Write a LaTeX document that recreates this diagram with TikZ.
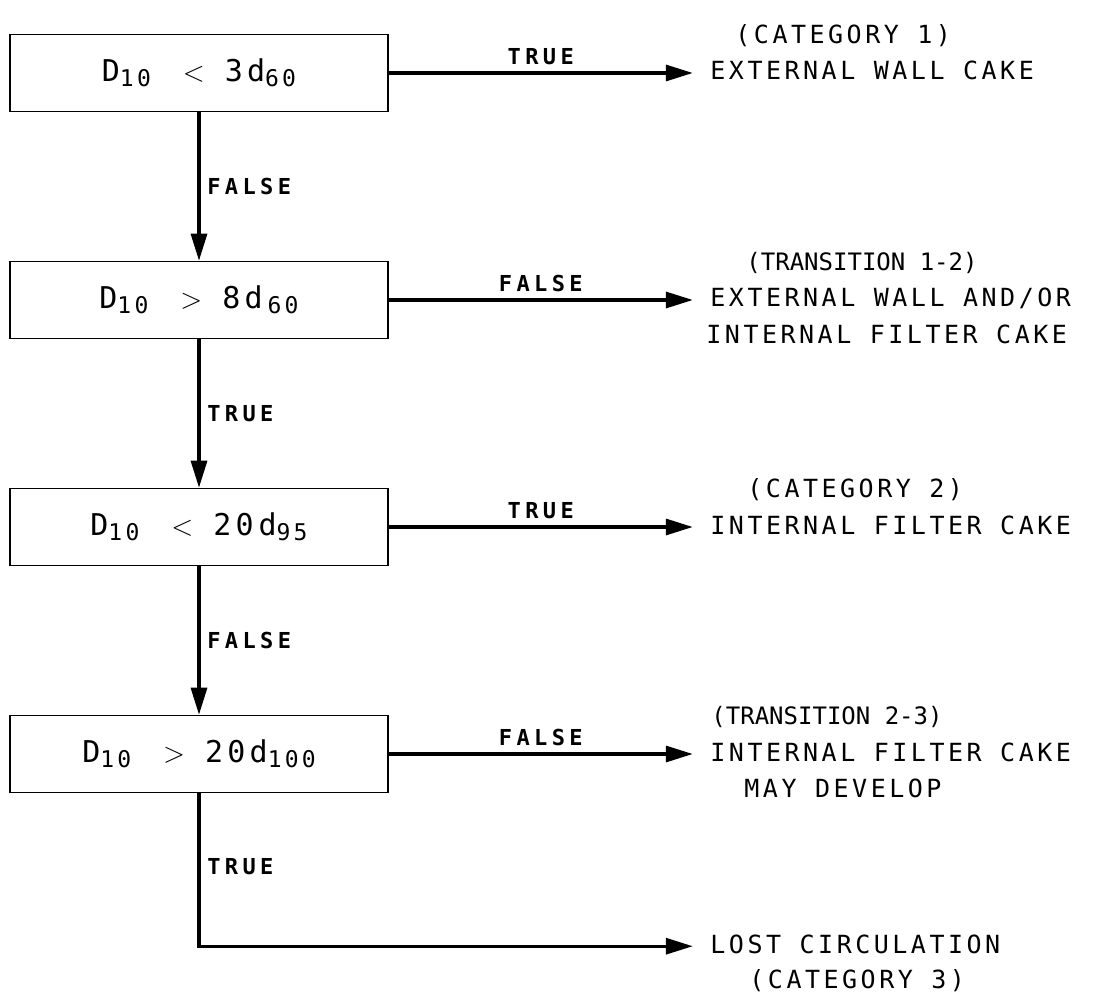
\documentclass[tikz,border=0pt]{standalone}
\usepackage{fontspec}
\setmainfont{DejaVu Sans Mono}[LetterSpace=14]
\usetikzlibrary{positioning,arrows.meta}

\newcommand{\lowidx}[1]{\raisebox{-2.5pt}{\fontsize{11.5}{12}\selectfont #1}}

\begin{document}
\begin{tikzpicture}[x=0.5pt,y=-0.5pt,>={Triangle[length=13.5pt,width=8pt]},line width=1.6pt,node distance=113.5pt,
    test/.style={rectangle,draw,line width=0.8pt,minimum width=189pt,minimum height=38.5pt,font=\fontsize{15}{18}\selectfont},
    outcome/.style={inner xsep=8pt,inner ysep=0pt,text height=10pt,text depth=3pt,font=\fontsize{12.5}{15}\selectfont},
    stage/.style={outcome,font=\fontsize{12}{14}\selectfont\addfontfeature{LetterSpace=0}},
    answer/.style={font=\fontsize{11}{13}\selectfont\bfseries\addfontfeature{LetterSpace=20}}]

            \useasboundingbox (0,0) rectangle (1095,999);

            % the four tests
            \node[test] (1) at (199,73) {D\lowidx{10}\hspace{16pt}$<$\hspace{10pt}3d\lowidx{60}};
            \node[test] (2) [below of = 1] {D\lowidx{10}\hspace{16pt}$>$\hspace{10pt}8d\,\lowidx{60}};
            \node[test] (3) [below of = 2] {D\lowidx{10}\hspace{16pt}$<$\hspace{10pt}20\,d\lowidx{95}};
            \node[test] (4) [below of = 3] {D\lowidx{10}\hspace{16pt}$>$\hspace{10pt}20d\lowidx{100}};

            % outcomes
            \node[outcome] (o1) [right=152pt of 1] {EXTERNAL WALL CAKE};
            \node[outcome] (o1a) [above right=3.5pt and 12.5pt of o1.north west] {(CATEGORY 1)};
            \node[outcome] (o2) [right=152pt of 2] {EXTERNAL WALL AND/OR};
            \node[stage] (o2a) [above right=3.5pt and 18pt of o2.north west] {(TRANSITION 1-2)};
            \node[outcome] (o2b) [below right=3.5pt and -2pt of o2.south west] {INTERNAL FILTER CAKE};
            \node[outcome] (o3) [right=152pt of 3] {INTERNAL FILTER CAKE};
            \node[outcome] (o3a) [above right=3.5pt and 18.5pt of o3.north west] {(CATEGORY 2)};
            \node[outcome] (o4) [right=152pt of 4] {INTERNAL FILTER CAKE};
            \node[stage] (o4a) [above right=3.5pt and 0.5pt of o4.north west] {(TRANSITION 2-3)};
            \node[outcome] (o4b) [below right=3.5pt and 17pt of o4.south west] {MAY DEVELOP};
            \node[outcome] (o5) [below=81.5pt of o4.south west, anchor=north west] {LOST CIRCULATION};
            \node[outcome] (o5a) [below right=3pt and 19.5pt of o5.south west] {(CATEGORY 3)};

            \draw[->] (1) -- node[answer, right] {FALSE} (2);
            \draw[->] (2) -- node[answer, right] {TRUE} (3);
            \draw[->] (3) -- node[answer, right] {FALSE} (4);
            \draw[->] (4) |- node[answer, right, pos=0.24] {TRUE} (o5);
            \draw[->] (1) -- node[answer, above] {TRUE} (o1);
            \draw[->] (2) -- node[answer, above] {FALSE} (o2);
            \draw[->] (3) -- node[answer, above] {TRUE} (o3);
            \draw[->] (4) -- node[answer, above] {FALSE} (o4);

        \end{tikzpicture}
\end{document}
